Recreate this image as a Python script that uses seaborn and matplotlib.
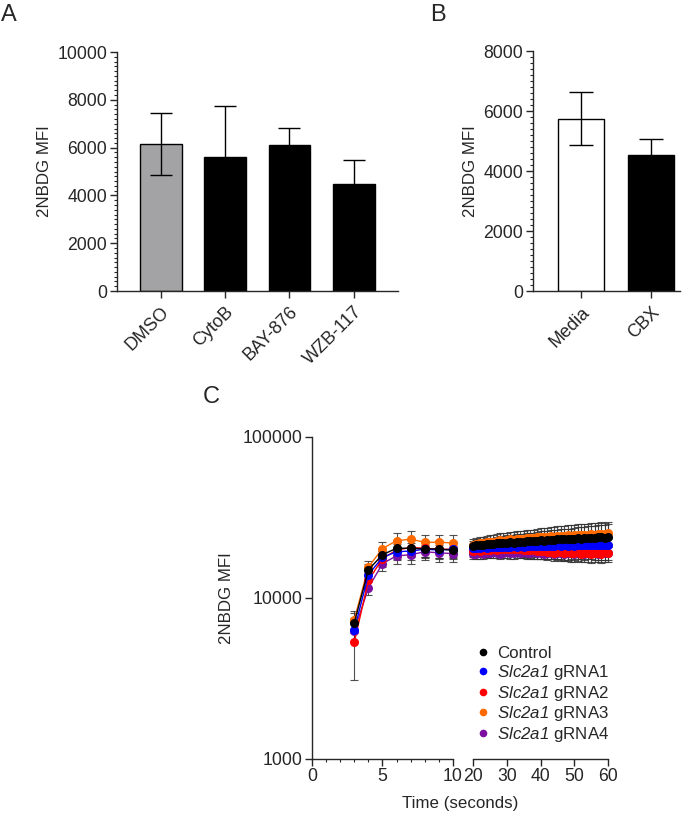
import numpy as np
import pandas as pd
import matplotlib
matplotlib.use("Agg")
import matplotlib.pyplot as plt
import seaborn as sns
from matplotlib.ticker import MultipleLocator, FixedLocator, NullLocator
from matplotlib.lines import Line2D

# Panel A data
groups_a = ["DMSO", "CytoB", "BAY-876", "WZB-117"]
means_a = [6150, 5590, 6100, 4490]
sd_a = [1300, 2150, 740, 1010]
colors_a = ["#a2a2a6", "black", "black", "black"]

# Panel B data
groups_b = ["Media", "CBX"]
means_b = [5750, 4550]
sd_b = [890, 510]
colors_b = ["white", "black"]

# Panel C data (0-10 s segment)
t_left = [3, 4, 5, 6, 7, 8, 9, 10]
ctrl_left = [7000, 14900, 18500, 20300, 20300, 20100, 20100, 19700]
g1_left = [6300, 13900, 17800, 19300, 19500, 20000, 19800, 20000]
g2_left = [5300, 12800, 17500, 19800, 20500, 20300, 20000, 20000]
g3_left = [7300, 15500, 20200, 22600, 23100, 22100, 22100, 21900]
g4_left = [6200, 11500, 16300, 18200, 18500, 19300, 19000, 18800]
ctrl_left_sd = [1000, 1300, 2000, 2400, 2500, 2400, 2400, 2300]
g1_left_sd = [900, 1200, 1800, 2200, 2300, 2200, 2300, 2200]
g2_left_sd = [2200, 1300, 1900, 2300, 2400, 2300, 2400, 2300]
g3_left_sd = [1000, 1400, 2100, 2600, 2700, 2600, 2600, 2500]
g4_left_sd = [900, 1100, 1700, 2100, 2200, 2100, 2300, 2200]

# Panel C data (20-60 s segment)
t_right = list(range(20, 61))
ctrl_right = [21000, 21200, 21300, 21200, 21500, 21600, 21500, 21800, 21900, 21800,
              22000, 22100, 22000, 22200, 22300, 22200, 22400, 22500, 22400, 22600,
              22700, 22600, 22800, 22900, 22800, 23000, 23100, 23000, 23200, 23100,
              23300, 23400, 23300, 23500, 23400, 23600, 23500, 23700, 23800, 23600,
              23900]
g1_right = [20300, 20500, 20400, 20600, 20500, 20600, 20700, 20600, 20700, 20800,
            20700, 20800, 20900, 20800, 20900, 20800, 21000, 20900, 21000, 20900,
            21000, 21100, 21000, 21100, 21000, 21200, 21100, 21200, 21100, 21200,
            21100, 21200, 21300, 21200, 21300, 21200, 21300, 21400, 21300, 21200,
            21300]
g2_right = [19500, 19700, 19600, 19800, 19700, 19900, 20000, 19900, 20100, 20000,
            20100, 20200, 20100, 20000, 20100, 19900, 19800, 19700, 19800, 19600,
            19500, 19400, 19200, 19300, 19000, 19200, 19100, 18900, 19100, 19000,
            18900, 19100, 18800, 19000, 18900, 18700, 18900, 19000, 18800, 19100,
            19000]
g3_right = [21300, 21600, 21900, 21800, 22100, 22300, 22200, 22500, 22700, 22600,
            22800, 23000, 22900, 23100, 23300, 23200, 23400, 23500, 23400, 23700,
            23800, 23700, 23900, 24100, 24000, 24200, 24300, 24200, 24400, 24300,
            24500, 24600, 24500, 24700, 24600, 24800, 24700, 24900, 25000, 24800,
            25100]
g4_right = [18600, 18700, 18900, 18800, 19000, 18900, 19100, 19000, 18800, 19000,
            19100, 18900, 19000, 19200, 19000, 19100, 18900, 19000, 19100, 18900,
            19000, 18800, 18900, 19000, 18800, 18900, 19000, 18800, 18900, 19000,
            18800, 18900, 19000, 18800, 18900, 19000, 18900, 18800, 19000, 18900,
            19000]
ctrl_right_sd = [1600, 1700, 1800, 1800, 1900, 2000, 2100, 2200, 2200, 2300,
                 2400, 2500, 2500, 2600, 2700, 2800, 2800, 2900, 3000, 3100,
                 3100, 3200, 3300, 3300, 3400, 3500, 3600, 3700, 3700, 3800,
                 3900, 4000, 4100, 4100, 4300, 4200, 4400, 4500, 4600, 4700,
                 4700]
g1_right_sd = [1300, 1300, 1400, 1300, 1400, 1400, 1500, 1400, 1500, 1500,
               1500, 1600, 1500, 1600, 1600, 1500, 1600, 1700, 1600, 1700,
               1700, 1600, 1700, 1800, 1700, 1800, 1700, 1800, 1900, 1800,
               1800, 1900, 1800, 1900, 2000, 1900, 1900, 2000, 1900, 2000,
               2000]
g2_right_sd = [1500, 1500, 1600, 1600, 1700, 1600, 1700, 1800, 1700, 1800,
               1800, 1900, 1800, 1900, 1900, 2000, 1900, 2000, 2000, 2100,
               2000, 2100, 2100, 2000, 2200, 2100, 2200, 2100, 2200, 2300,
               2200, 2300, 2200, 2300, 2300, 2200, 2300, 2400, 2300, 2400,
               2300]
g3_right_sd = [1800, 1900, 2000, 2000, 2100, 2200, 2300, 2300, 2400, 2500,
               2500, 2600, 2700, 2700, 2800, 2900, 2900, 3000, 3100, 3100,
               3200, 3300, 3300, 3400, 3500, 3500, 3600, 3700, 3700, 3800,
               3900, 3900, 4000, 4100, 4100, 4200, 4300, 4300, 4400, 4500,
               4500]
g4_right_sd = [1300, 1300, 1400, 1300, 1400, 1300, 1400, 1400, 1500, 1400,
               1500, 1400, 1500, 1500, 1400, 1500, 1600, 1500, 1600, 1500,
               1600, 1500, 1600, 1600, 1500, 1600, 1700, 1600, 1700, 1600,
               1700, 1600, 1700, 1700, 1600, 1700, 1800, 1700, 1800, 1700,
               1800]

# gene name set in italics (mathrm is mapped to the italic face below)
series_labels = ["Control", r"$\mathrm{Slc2a1}$ gRNA1", r"$\mathrm{Slc2a1}$ gRNA2",
                 r"$\mathrm{Slc2a1}$ gRNA3", r"$\mathrm{Slc2a1}$ gRNA4"]
series_colors = ["black", "#0000ff", "#ff0000", "#ff6a00", "#7a0fa0"]
left_vals = [ctrl_left, g1_left, g2_left, g3_left, g4_left]
left_sds = [ctrl_left_sd, g1_left_sd, g2_left_sd, g3_left_sd, g4_left_sd]
right_vals = [ctrl_right, g1_right, g2_right, g3_right, g4_right]
right_sds = [ctrl_right_sd, g1_right_sd, g2_right_sd, g3_right_sd, g4_right_sd]

sns.set_style("ticks")
plt.rcParams["font.family"] = ["Liberation Sans", "DejaVu Sans"]
plt.rcParams["mathtext.fontset"] = "custom"
plt.rcParams["mathtext.rm"] = "Liberation Sans:italic"
plt.rcParams["mathtext.it"] = "Liberation Sans:italic"
plt.rcParams["font.size"] = 12
plt.rcParams["axes.linewidth"] = 1.0

TICK_FS = 12.7
LABEL_FS = 12.2

fig = plt.figure(figsize=(7, 8.13), dpi=100)


def style_bar_axis(ax):
    sns.despine(ax=ax)
    ax.tick_params(axis="both", which="major", length=5, width=1, labelsize=TICK_FS, pad=2)
    ax.tick_params(axis="x", which="major", pad=4, labelsize=13)
    ax.tick_params(axis="y", which="minor", length=2.5, width=0.8)
    ax.yaxis.set_minor_locator(MultipleLocator(200))
    ax.set_xlabel("")
    ax.set_ylabel("2NBDG MFI", fontsize=LABEL_FS)
    for lab in ax.get_xticklabels():
        lab.set_rotation(45)
        lab.set_ha("right")
        lab.set_rotation_mode("anchor")


# Panel A
ax_a = fig.add_axes([0.167, 0.642, 0.401, 0.294])
df_a = pd.DataFrame({"group": groups_a, "mfi": means_a})
sns.barplot(data=df_a, x="group", y="mfi", hue="group", palette=colors_a,
            edgecolor="black", linewidth=1, width=0.65, errorbar=None,
            legend=False, ax=ax_a)
ax_a.errorbar(range(len(groups_a)), means_a, yerr=sd_a, fmt="none",
              ecolor="black", elinewidth=1, capsize=8, capthick=1)
ax_a.set_xlim(-0.68, 3.68)
ax_a.set_ylim(0, 10000)
ax_a.set_yticks(range(0, 10001, 2000))
style_bar_axis(ax_a)

# Panel B
ax_b = fig.add_axes([0.761, 0.642, 0.21, 0.295])
df_b = pd.DataFrame({"group": groups_b, "mfi": means_b})
sns.barplot(data=df_b, x="group", y="mfi", hue="group", palette=colors_b,
            edgecolor="black", linewidth=1, width=0.65, errorbar=None,
            legend=False, ax=ax_b)
ax_b.errorbar(range(len(groups_b)), means_b, yerr=sd_b, fmt="none",
              ecolor="black", elinewidth=1, capsize=8.5, capthick=1)
ax_b.set_xlim(-0.68, 1.4)
ax_b.set_ylim(0, 8000)
ax_b.set_yticks(range(0, 8001, 2000))
style_bar_axis(ax_b)

# Panel C - broken x axis
ax_l = fig.add_axes([0.4457, 0.0668, 0.2014, 0.396])
ax_r = fig.add_axes([0.6757, 0.0668, 0.193, 0.396])

draw_order = [4, 3, 2, 1, 0]
for ax, tvals, vals, sds in [(ax_l, t_left, left_vals, left_sds),
                             (ax_r, t_right, right_vals, right_sds)]:
    for i in draw_order:
        df_c = pd.DataFrame({"t": tvals, "mfi": vals[i]})
        ax.errorbar(tvals, vals[i], yerr=sds[i], fmt="none", ecolor="#333333",
                    elinewidth=0.8, capsize=3, capthick=0.8, alpha=0.85,
                    clip_on=False, zorder=2 + (4 - i) * 0.1)
        sns.lineplot(data=df_c, x="t", y="mfi", color=series_colors[i],
                     marker="o", markersize=6.5, markeredgewidth=0,
                     linewidth=1, ax=ax, clip_on=False, zorder=3 + (4 - i) * 0.1)
    ax.set_yscale("log")
    ax.set_ylim(1000, 100000)
    ax.set_xlabel("")
    ax.set_ylabel("")

ax_l.set_xlim(0, 10)
ax_l.xaxis.set_major_locator(FixedLocator([0, 5, 10]))
ax_l.xaxis.set_minor_locator(MultipleLocator(1))
ax_l.yaxis.set_major_locator(FixedLocator([1000, 10000, 100000]))
ax_l.yaxis.set_minor_locator(NullLocator())
ax_l.set_yticklabels(["1000", "10000", "100000"])
ax_l.set_ylabel("2NBDG MFI", fontsize=LABEL_FS, labelpad=6)
sns.despine(ax=ax_l)
ax_l.tick_params(axis="both", which="major", length=5, width=1, labelsize=TICK_FS, pad=2)
ax_l.tick_params(axis="x", which="minor", length=2.5, width=0.8)

ax_r.set_xlim(20, 60)
ax_r.xaxis.set_major_locator(FixedLocator([20, 30, 40, 50, 60]))
ax_r.xaxis.set_minor_locator(NullLocator())
ax_r.yaxis.set_major_locator(NullLocator())
ax_r.yaxis.set_minor_locator(NullLocator())
sns.despine(ax=ax_r, left=True)
ax_r.tick_params(axis="x", which="major", length=5, width=1, labelsize=TICK_FS, pad=2)

fig.text(0.657, 0.002, "Time (seconds)", ha="center", va="bottom", fontsize=LABEL_FS)

handles = [Line2D([], [], color=c, marker="o", linestyle="none", markersize=5.5,
                  markeredgewidth=0) for c in series_colors]
fig.legend(handles, series_labels, loc="upper left", bbox_to_anchor=(0.68, 0.205),
           frameon=False, fontsize=LABEL_FS, handlelength=0.8, handletextpad=0.45,
           labelspacing=0.1, borderaxespad=0, borderpad=0)

fig.text(0.002, 0.995, "A", ha="left", va="top", fontsize=17)
fig.text(0.615, 0.995, "B", ha="left", va="top", fontsize=17)
fig.text(0.29, 0.525, "C", ha="left", va="top", fontsize=17)

fig.savefig("out.png", dpi=100)
